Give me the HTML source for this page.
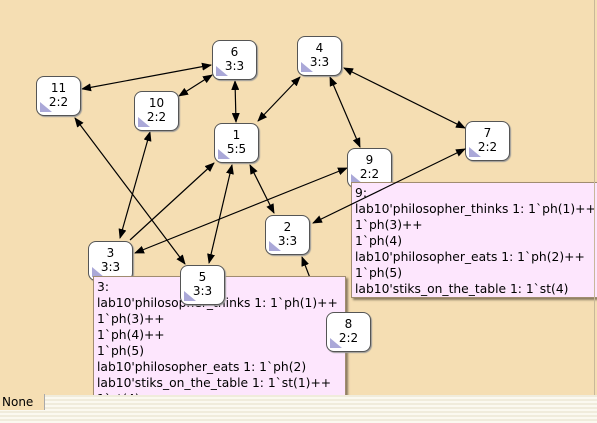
<!DOCTYPE html>
<html><head><meta charset="utf-8"><style>
body{margin:0;width:597px;height:423px;overflow:hidden;background:#f5deb3;position:relative;font-family:"DejaVu Sans","Liberation Sans",sans-serif;}
.n{position:absolute;width:43px;height:38px;background:#fff;border:1px solid #555;border-radius:8px;text-align:center;font-size:12px;line-height:14px;color:#000;box-shadow:1px 1px 1px #999;}
.n div{padding-top:4px}
.n:after{content:"";position:absolute;left:3px;bottom:3px;width:0;height:0;border-left:12px solid #aaa8d8;border-top:10px solid transparent;}
.p{position:absolute;background:#fde6fd;border:1px solid #a08c70;font-size:12.3px;line-height:16px;padding:2px 3px;white-space:nowrap;overflow:hidden;box-shadow:2px 2px 2px #8a7a60;}
svg{position:absolute;left:0;top:0}
</style></head><body>
<svg width="597" height="423">
<defs><marker id="a" markerWidth="10" markerHeight="8" refX="9" refY="4" orient="auto-start-reverse" markerUnits="userSpaceOnUse"><path d="M0,0L10,4L0,8z" fill="#000"/></marker></defs>
<g stroke="#000" stroke-width="1.2" fill="none" marker-end="url(#a)" marker-start="url(#a)">
<line x1="82" y1="89" x2="211" y2="65"/>
<line x1="179" y1="96" x2="212" y2="75"/>
<line x1="235" y1="81" x2="236" y2="122"/>
<line x1="258" y1="121" x2="300" y2="77"/>
<line x1="344" y1="68" x2="465" y2="128"/>
<line x1="330" y1="77" x2="360" y2="147"/>
<line x1="120" y1="238" x2="150" y2="132"/>
<line x1="75" y1="118" x2="185" y2="264"/>
<line x1="209" y1="263" x2="232" y2="165"/>
<line x1="250" y1="165" x2="274" y2="213"/>
<line x1="135" y1="253" x2="347" y2="168"/>
</g>
<g stroke="#000" stroke-width="1.2" fill="none">
<line x1="130" y1="240" x2="214" y2="163" marker-end="url(#a)"/>
<line x1="323" y1="312" x2="302" y2="257" marker-end="url(#a)"/>
</g>
</svg>
<div class="n" style="left:212px;top:40px"><div>6<br>3:3</div></div>
<div class="n" style="left:36px;top:76px"><div>11<br>2:2</div></div>
<div class="n" style="left:134px;top:91px"><div>10<br>2:2</div></div>
<div class="n" style="left:214px;top:123px"><div>1<br>5:5</div></div>
<div class="n" style="left:297px;top:36px"><div>4<br>3:3</div></div>
<div class="n" style="left:465px;top:121px"><div>7<br>2:2</div></div>
<div class="n" style="left:347px;top:148px"><div>9<br>2:2</div></div>
<div class="n" style="left:265px;top:215px"><div>2<br>3:3</div></div>
<div class="n" style="left:88px;top:241px"><div>3<br>3:3</div></div>
<div class="p" style="left:351px;top:182px;width:246px;height:110px">9:<br>lab10'philosopher_thinks 1: 1`ph(1)++<br>1`ph(3)++<br>1`ph(4)<br>lab10'philosopher_eats 1: 1`ph(2)++<br>1`ph(5)<br>lab10'stiks_on_the_table 1: 1`st(4)</div>
<svg width="597" height="423" style="pointer-events:none"><defs><marker id="b" markerWidth="10" markerHeight="8" refX="9" refY="4" orient="auto-start-reverse" markerUnits="userSpaceOnUse"><path d="M0,0L10,4L0,8z" fill="#000"/></marker></defs><line x1="313" y1="223" x2="465" y2="149" stroke="#000" stroke-width="1.2" marker-start="url(#b)" marker-end="url(#b)"/></svg>
<div class="p" style="left:93px;top:276px;width:245px;height:120px">3:<br>lab10'philosopher_thinks 1: 1`ph(1)++<br>1`ph(3)++<br>1`ph(4)++<br>1`ph(5)<br>lab10'philosopher_eats 1: 1`ph(2)<br>lab10'stiks_on_the_table 1: 1`st(1)++<br>1`st(4)++</div>
<div class="n" style="left:180px;top:265px"><div>5<br>3:3</div></div>
<div class="n" style="left:326px;top:312px"><div>8<br>2:2</div></div>
<div style="position:absolute;left:0;top:395px;width:597px;height:28px;background:repeating-linear-gradient(#f0ecdc 0 2px,#fbf9f0 2px 4px);"></div>
<div style="position:absolute;left:0;top:394px;width:42px;height:16px;background:#f5deb3;border-right:1px solid #aaa;font-size:12px;line-height:16px;padding-left:2px;">None</div>
<div style="position:absolute;left:594px;top:0;width:1px;height:395px;background:#c8b89a"></div>
</body></html>
